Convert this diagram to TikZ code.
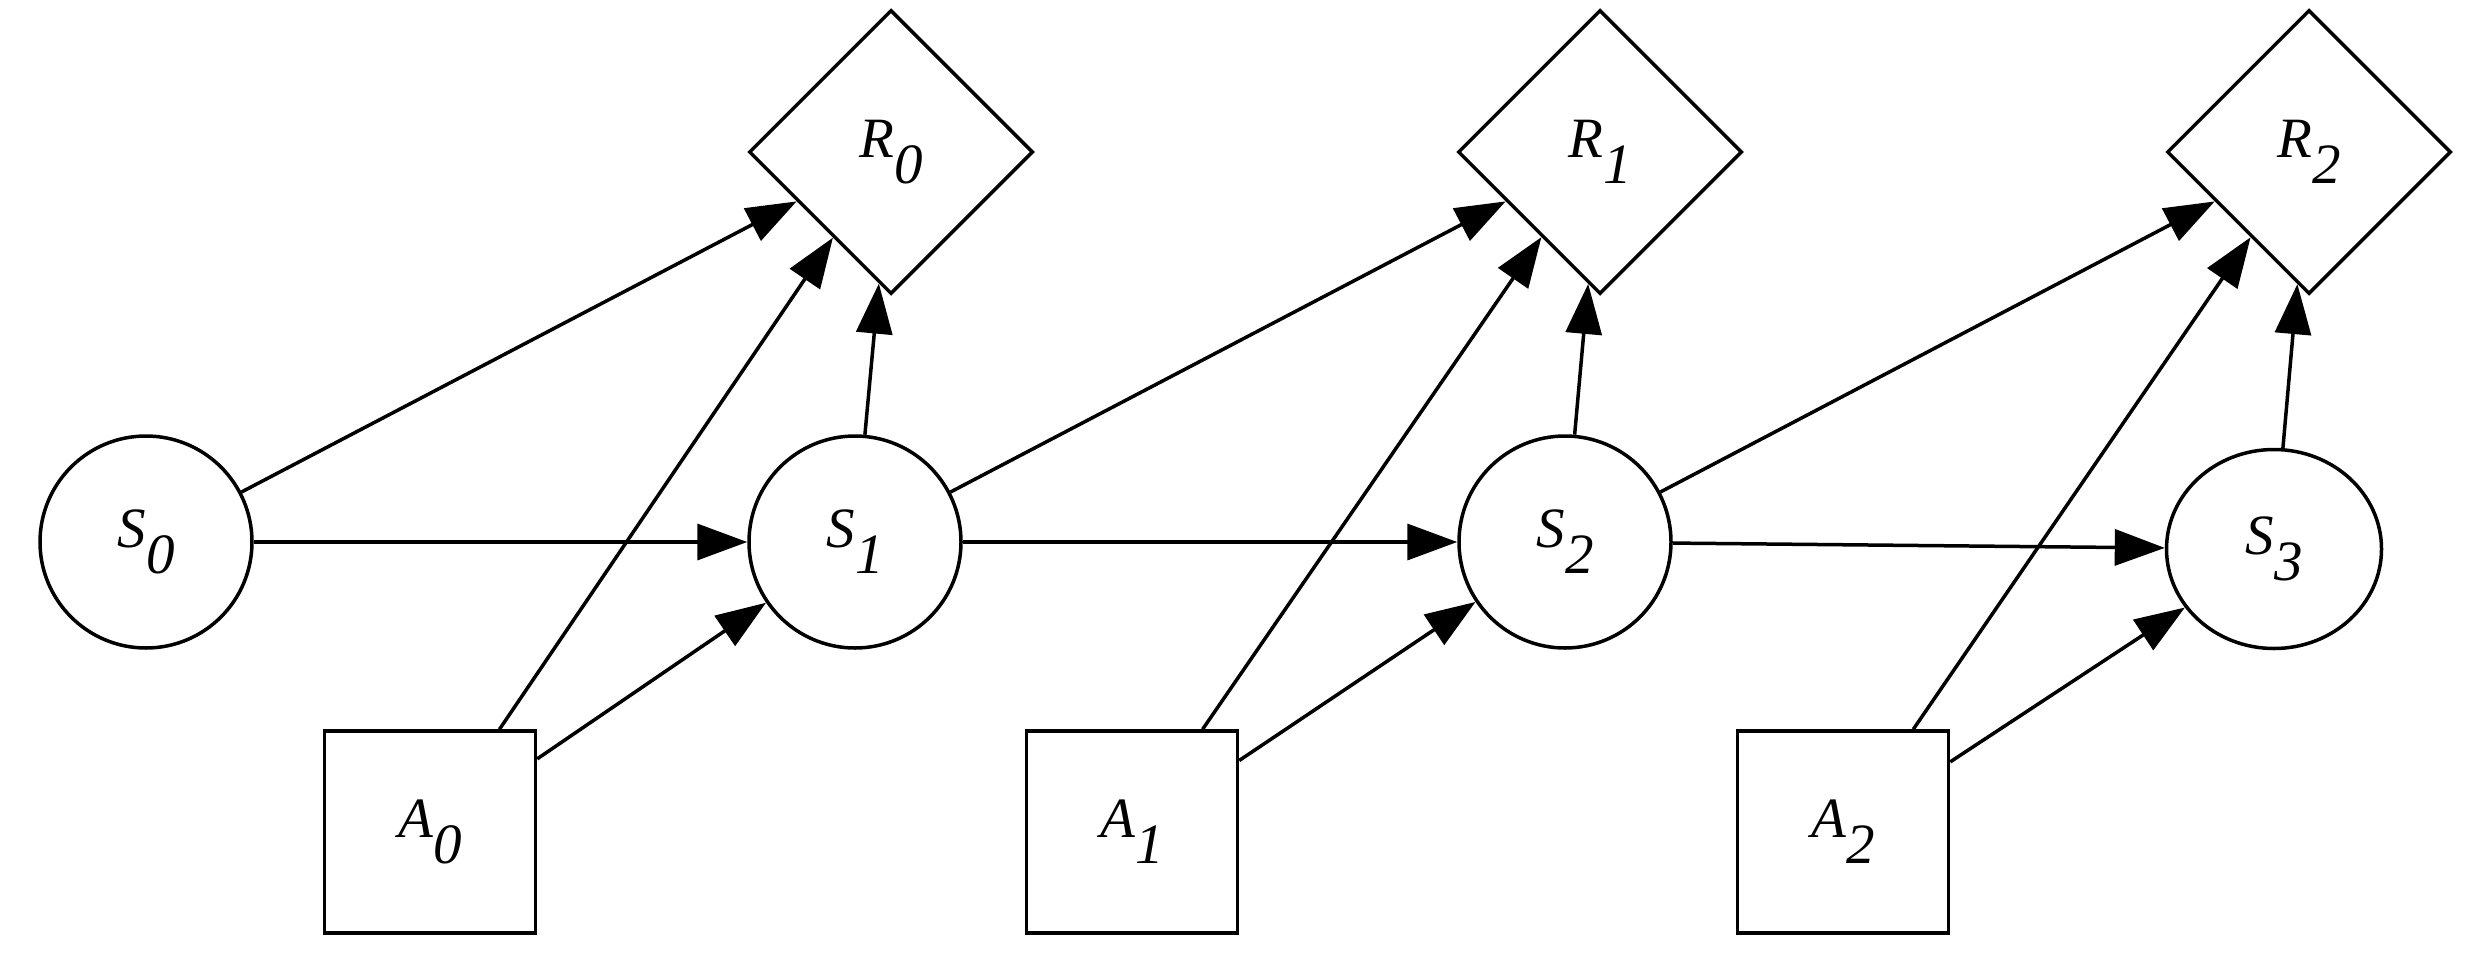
\documentclass[tikz,border=0pt]{standalone}
\usepackage{fontspec}
\setmainfont{Liberation Serif}
\usetikzlibrary{shapes.geometric,arrows.meta}
\newcommand\lbl[2]{#1\raisebox{-26pt}{#2}}
\begin{document}
\begin{tikzpicture}[x=1pt,y=-1pt,
  every node/.style={inner sep=0pt, font=\fontsize{57}{60}\selectfont\itshape, line width=3.5pt},
  snode/.style={draw, ellipse, minimum width=212pt, minimum height=212pt},
  rnode/.style={draw, diamond, minimum width=284pt, minimum height=284pt},
  anode/.style={draw, rectangle, minimum width=211pt, minimum height=202pt},
  edge/.style={line width=3.5pt, -{Triangle[length=50pt,width=36pt]}}]
\useasboundingbox (0,0) rectangle (2486,959);
\node[snode] (S0) at (146,542) {\lbl{S}{0}};
\node[snode] (S1) at (855,542) {\lbl{S}{1}};
\node[snode] (S2) at (1565,542) {\lbl{S}{2}};
\node[snode, minimum width=215pt, minimum height=199pt] (S3) at (2274,549) {\lbl{S}{3}};
\node[rnode] (R0) at (891,152) {\lbl{R}{0}};
\node[rnode] (R1) at (1600,152) {\lbl{R}{1}};
\node[rnode] (R2) at (2309,152) {\lbl{R}{2}};
\node[anode] (A0) at (430,832) {\lbl{A}{0}};
\node[anode] (A1) at (1132,832) {\lbl{A}{1}};
\node[anode] (A2) at (1843,832) {\lbl{A}{2}};
\draw[edge] (S0) -- (R0);
\draw[edge] (S0) -- (S1);
\draw[edge] (A0) -- (R0);
\draw[edge] (A0) -- (S1);
\draw[edge] (S1) -- (R0);
\draw[edge] (S1) -- (R1);
\draw[edge] (S1) -- (S2);
\draw[edge] (A1) -- (R1);
\draw[edge] (A1) -- (S2);
\draw[edge] (S2) -- (R1);
\draw[edge] (S2) -- (R2);
\draw[edge] (S2) -- (S3);
\draw[edge] (A2) -- (R2);
\draw[edge] (A2) -- (S3);
\draw[edge] (S3) -- (R2);
\end{tikzpicture}
\end{document}
